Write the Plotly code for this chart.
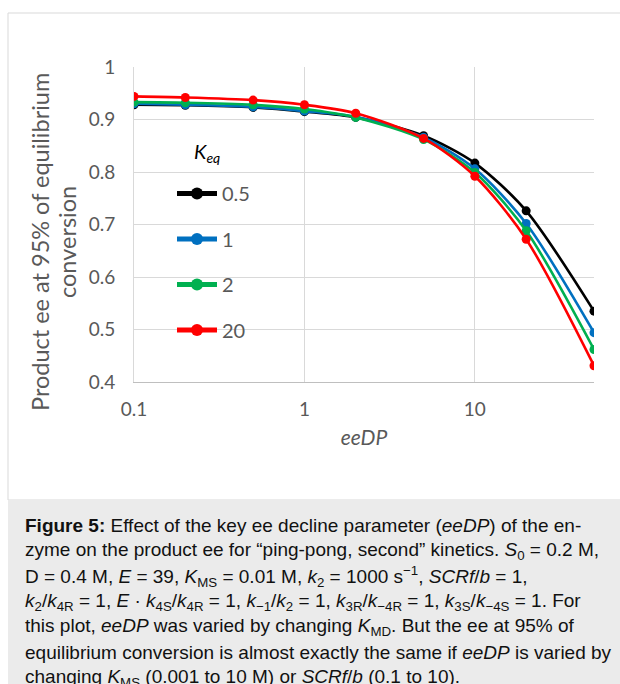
import plotly.graph_objects as go

# ---- data ----
ee_dp = [0.1, 0.2, 0.5, 1, 2, 5, 10, 20, 50]
keq_labels = ["0.5", "1", "2", "20"]
ee_keq_05 = [0.928, 0.927, 0.923, 0.915, 0.904, 0.869, 0.817, 0.726, 0.535]
ee_keq_1 = [0.930, 0.928, 0.924, 0.916, 0.905, 0.866, 0.806, 0.702, 0.494]
ee_keq_2 = [0.933, 0.932, 0.928, 0.920, 0.904, 0.862, 0.799, 0.688, 0.462]
ee_keq_20 = [0.944, 0.942, 0.937, 0.928, 0.912, 0.864, 0.792, 0.672, 0.431]
series = [ee_keq_05, ee_keq_1, ee_keq_2, ee_keq_20]
colors = ["#000000", "#0070C0", "#00B050", "#FF0000"]

x_ticks = [0.1, 1, 10]
x_tick_text = ["0.1", "1", "10"]
y_ticks = [0.4, 0.5, 0.6, 0.7, 0.8, 0.9, 1.0]
y_tick_text = ["0.4", "0.5", "0.6", "0.7", "0.8", "0.9", "1"]

y_title_lines = ["Product ee at 95% of equilibrium", "conversion"]

caption_lines = [
    "<b>Figure 5:</b> Effect of the key ee decline parameter (<i>eeDP</i>) of the en-",
    "zyme on the product ee for “ping-pong, second” kinetics. <i>S</i><sub>0</sub> = 0.2 M,",
    "D = 0.4 M, <i>E</i> = 39, <i>K</i><sub>MS</sub> = 0.01 M, <i>k</i><sub>2</sub> = 1000 s<sup>−1</sup>, <i>SCRf</i>/<i>b</i> = 1,",
    "<i>k</i><sub>2</sub>/<i>k</i><sub>4R</sub> = 1, <i>E</i> · <i>k</i><sub>4S</sub>/<i>k</i><sub>4R</sub> = 1, <i>k</i><sub>−1</sub>/<i>k</i><sub>2</sub> = 1, <i>k</i><sub>3R</sub>/<i>k</i><sub>−4R</sub> = 1, <i>k</i><sub>3S</sub>/<i>k</i><sub>−4S</sub> = 1. For",
    "this plot, <i>eeDP</i> was varied by changing <i>K</i><sub>MD</sub>. But the ee at 95% of",
    "equilibrium conversion is almost exactly the same if <i>eeDP</i> is varied by",
    "changing <i>K</i><sub>MS</sub> (0.001 to 10 M) or <i>SCRf</i>/<i>b</i> (0.1 to 10).",
]

# ---- geometry helpers (pixel -> paper) ----
W, H = 620, 684
ML, MR, MT, MB = 134, 26, 67, 302
PW, PH = W - ML - MR, H - MT - MB


def px(x):
    return (x - ML) / PW


def py(y):
    return (H - MB - y) / PH


fig = go.Figure()
for name, vals, col in zip(keq_labels, series, colors):
    fig.add_trace(go.Scatter(
        x=ee_dp, y=vals, name=name, mode="lines+markers",
        line=dict(color=col, width=2.6, shape="spline", smoothing=0.8),
        marker=dict(color=col, size=9),
        legendgroup=name,
    ))

grey_txt = "#595959"
grid = "#d9d9d9"
font_chart = "Lato"

fig.update_layout(
    width=W, height=H,
    margin=dict(l=ML, r=MR, t=MT, b=MB),
    paper_bgcolor="white", plot_bgcolor="white",
    font=dict(family=font_chart, color=grey_txt, size=19),
    showlegend=True,
    legend=dict(
        x=px(172), y=py(174), xanchor="left", yanchor="top",
        bgcolor="rgba(0,0,0,0)", borderwidth=0,
        font=dict(family=font_chart, size=20, color=grey_txt),
        traceorder="grouped", tracegroupgap=16.5,
        itemsizing="constant", itemwidth=40,
    ),
    xaxis=dict(
        type="log", range=[-1, 1.699],
        tickvals=x_ticks, ticktext=x_tick_text,
        showgrid=True, gridcolor=grid, gridwidth=1,
        showline=True, linecolor="#bfbfbf", linewidth=1,
        ticks="", ticklabelstandoff=10,
        tickfont=dict(family=font_chart, size=19, color=grey_txt),
        title=dict(text="<i>eeDP</i>", standoff=11,
                   font=dict(family=font_chart, size=21, color=grey_txt)),
        zeroline=False,
    ),
    yaxis=dict(
        range=[0.4, 1.0],
        tickvals=y_ticks, ticktext=y_tick_text,
        showgrid=True, gridcolor=grid, gridwidth=1,
        showline=True, linecolor=grid, linewidth=1,
        ticks="", ticklabelstandoff=14,
        tickfont=dict(family=font_chart, size=19, color=grey_txt),
        zeroline=False,
    ),
)

# white legend backdrop (hides gridlines behind the legend, under the traces)
fig.add_shape(type="rect", xref="paper", yref="paper",
              x0=px(153), x1=px(270), y0=py(352), y1=py(140),
              line=dict(width=0), fillcolor="white", layer="between")

# outer chart border and caption box
fig.add_shape(type="rect", xref="paper", yref="paper",
              x0=px(8), x1=px(630), y0=py(500), y1=py(13),
              line=dict(color="#d9d9d9", width=1), fillcolor="rgba(0,0,0,0)", layer="below")
fig.add_shape(type="rect", xref="paper", yref="paper",
              x0=px(8), x1=px(630), y0=py(700), y1=py(500),
              line=dict(width=0), fillcolor="#ebebeb", layer="below")

# legend title
fig.add_annotation(
    xref="paper", yref="paper", x=px(192), y=py(152),
    text="<i>K</i><sub><i>eq</i></sub>", showarrow=False,
    xanchor="left", yanchor="middle",
    font=dict(family=font_chart, size=20, color="#000000"),
)

# y-axis title (two rotated lines)
for xpos, line in zip([40, 67], y_title_lines):
    fig.add_annotation(
        xref="paper", yref="paper", x=px(xpos), y=py(242),
        text=line, textangle=-90, showarrow=False,
        xanchor="center", yanchor="middle",
        font=dict(family=font_chart, size=23.5, color=grey_txt),
    )

# caption lines
for i, line in enumerate(caption_lines):
    fig.add_annotation(
        xref="paper", yref="paper", x=px(23), y=py(525 + 25.5 * i),
        text=line, showarrow=False, xanchor="left", yanchor="middle",
        font=dict(family="Liberation Sans", size=19, color="#111111"),
    )

fig.write_html("out.html")
